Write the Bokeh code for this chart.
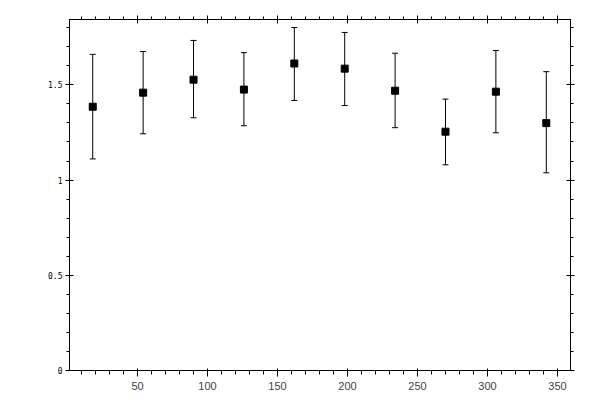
from bokeh.plotting import figure
from bokeh.models import (ColumnDataSource, Range1d, FixedTicker, LinearAxis,
                          Whisker, TeeHead)
from bokeh.embed import file_html
from bokeh.resources import INLINE

# values
angle = [18, 54, 90, 126, 162, 198, 234, 270, 306, 342]
mean = [1.385, 1.459, 1.527, 1.475, 1.612, 1.585, 1.469, 1.254, 1.464, 1.299]
upper = [1.660, 1.675, 1.733, 1.669, 1.801, 1.775, 1.666, 1.425, 1.680, 1.569]
lower = [1.111, 1.243, 1.327, 1.285, 1.418, 1.391, 1.275, 1.080, 1.248, 1.038]

x_ticks = [50, 100, 150, 200, 250, 300, 350]
x_minor = list(range(10, 360, 10))
y_ticks = [0, 0.5, 1, 1.5]
y_labels = {0: "0", 0.5: "0.5", 1: "1", 1.5: "1.5"}
y_minor = [i / 10 for i in range(0, 19)]

src = ColumnDataSource(dict(x=angle, y=mean, up=upper, lo=lower))

p = figure(width=592, height=392, output_backend="svg", toolbar_location=None,
           x_range=Range1d(1.4, 359.3), y_range=Range1d(0, 1.843),
           min_border_left=69, min_border_right=22, min_border_top=19,
           min_border_bottom=22)
p.grid.visible = False
p.outline_line_color = "black"
p.background_fill_color = "white"
p.border_fill_color = "white"

top = LinearAxis()
right = LinearAxis()
p.add_layout(top, "above")
p.add_layout(right, "right")

for ax in [p.xaxis[0], top]:
    ax.ticker = FixedTicker(ticks=x_ticks, minor_ticks=x_minor)
for ax in [p.yaxis[0], right]:
    ax.ticker = FixedTicker(ticks=y_ticks, minor_ticks=y_minor)
p.yaxis[0].major_label_overrides = y_labels
top.major_label_overrides = {t: "" for t in x_ticks}
right.major_label_overrides = {t: "" for t in y_ticks}

for ax in [p.xaxis[0], p.yaxis[0], top, right]:
    ax.axis_line_color = "black"
    ax.axis_line_width = 1
    ax.major_tick_line_color = "black"
    ax.minor_tick_line_color = "black"
    ax.major_tick_in = 4
    ax.major_tick_out = 4
    ax.minor_tick_in = 0
    ax.minor_tick_out = 3
    ax.major_label_text_font = "DejaVu Sans Mono"
    ax.major_label_text_font_size = "8px"
    ax.major_label_text_color = "black"
    ax.major_label_standoff = 3
for ax in [top, right]:
    ax.major_label_standoff = 0

p.add_layout(Whisker(source=src, base="x", upper="up", lower="lo",
                     dimension="height", line_color="black", line_width=1,
                     upper_head=TeeHead(size=6, line_color="black"),
                     lower_head=TeeHead(size=6, line_color="black")))
p.scatter("x", "y", source=src, marker="square", size=7,
          fill_color="black", line_color="black")

open("out.html", "w").write(file_html(p, INLINE))
